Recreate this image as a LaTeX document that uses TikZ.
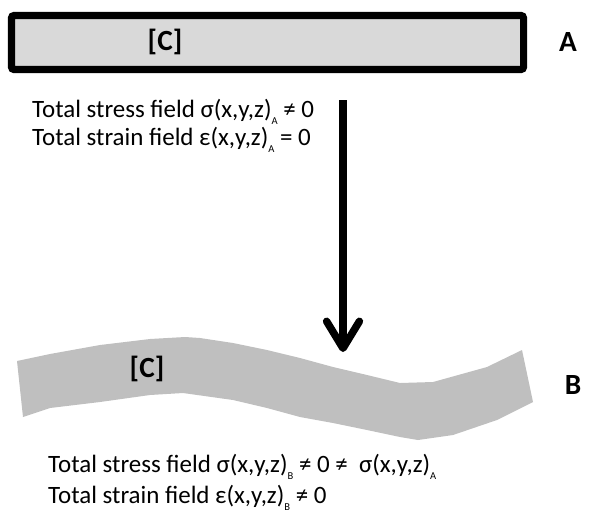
\documentclass[tikz,border=0pt]{standalone}
\usepackage{fontspec}
\setmainfont{Carlito}
\usepackage{xcolor}
\definecolor{PlateGrey}{HTML}{D9D9D9}
\definecolor{BentGrey}{HTML}{BFBFBF}
\usetikzlibrary{arrows.meta}
\newcommand{\lowsub}[1]{\raisebox{-6.5pt}{\fontsize{9}{9}\selectfont #1}}

\begin{document}
\begin{tikzpicture}[x=0.03cm,y=-0.03cm,
    fieldtext/.style={font=\fontsize{21.3}{25}\selectfont,anchor=base west,inner sep=0pt},
    tag/.style={font=\fontsize{25}{25}\selectfont\bfseries,inner sep=0pt},
    >={Straight Barb[length=23pt,width=28pt,round]}]
    \useasboundingbox (0,0) rectangle (597,521);
    % state A: straight plate
    \node[draw,line width=6pt,fill=PlateGrey,rounded corners=2pt,inner sep=0pt,
      minimum width=15.36cm,minimum height=1.62cm] (plateA) at (267.5,42.5) {};
    \node[tag] (compA) at (165,42) {[C]};
    \node[tag] (tagA) at (568,42) {A};
    \node[fieldtext] (stressA) at (32,117) {Total stress field σ(x,y,z)\lowsub{A} ≠ 0};
    \node[fieldtext] (strainA) at (32,145) {Total strain field ε(x,y,z)\lowsub{A} = 0};
    % state B: bent plate
    \fill[BentGrey] (17,361) -- (50,354) -- (100,345) -- (150,339) -- (185,337) -- (200,338)
      -- (233,343) -- (267,350) -- (300,358) -- (333,367) -- (367,375) -- (400,383)
      -- (433,382) -- (487,367) -- (522,350) -- (533,402) -- (497,420) -- (453,435)
      -- (418,440) -- (400,437) -- (367,430) -- (333,423) -- (300,417) -- (267,408)
      -- (233,400) -- (183,393) -- (150,395) -- (100,402) -- (50,408) -- (23,417) -- cycle;
    \node[tag] (compB) at (147,369) {[C]};
    \node[tag] (tagB) at (573,385) {B};
    \node[fieldtext] (stressB) at (48,472) {Total stress field σ(x,y,z)\lowsub{B} ≠ 0 ≠ \ σ(x,y,z)\lowsub{A}};
    \node[fieldtext] (strainB) at (48,503) {Total strain field ε(x,y,z)\lowsub{B} ≠ 0};
    % transition
    \coordinate (start) at (343,100);
    \coordinate (end) at (343,352);
    \draw[->,line width=6.4pt] (start) -- (end);
  \end{tikzpicture}
\end{document}
